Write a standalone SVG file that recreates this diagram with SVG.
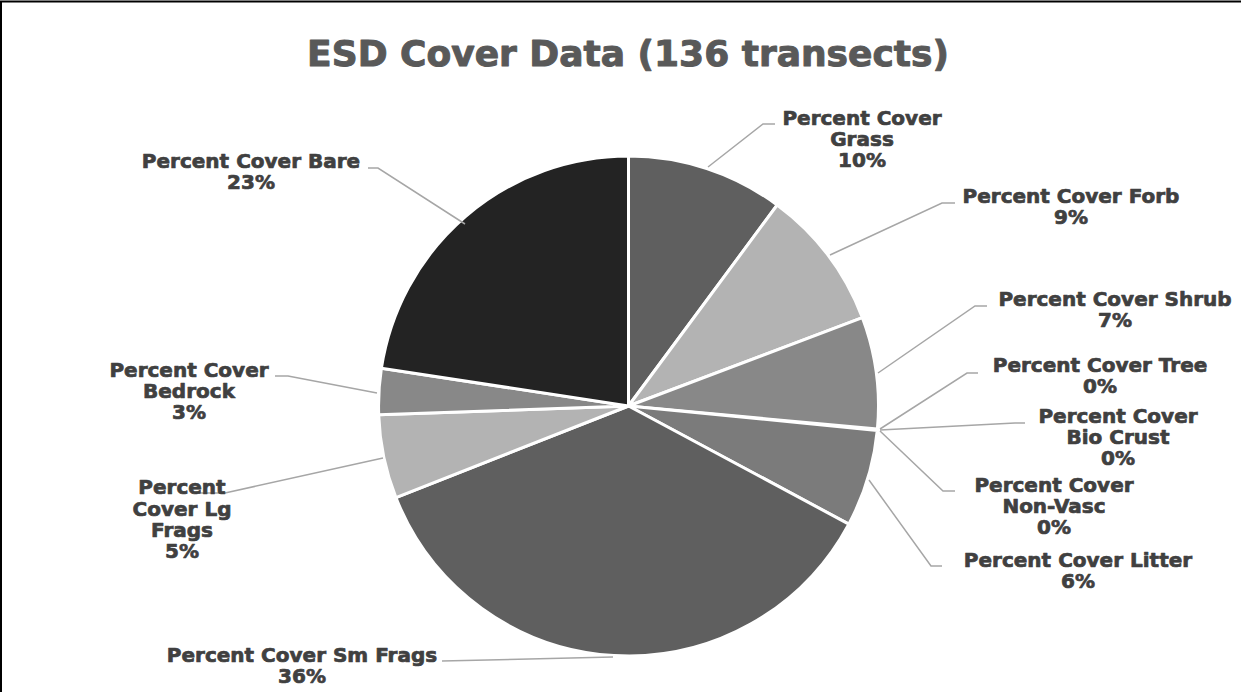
<svg xmlns="http://www.w3.org/2000/svg" width="1247" height="692" viewBox="0 0 1247 692">
<style>
.title{font-family:"DejaVu Sans","Liberation Sans",sans-serif;font-weight:bold;font-size:36px;fill:#595959;stroke:#595959;stroke-width:1;stroke-linejoin:round;text-anchor:middle}
.lbl{font-family:"DejaVu Sans","Liberation Sans",sans-serif;font-weight:bold;font-size:20px;fill:#404040;stroke:#404040;stroke-width:0.7;stroke-linejoin:round;text-anchor:middle}
.slice{stroke:#ffffff;stroke-width:3;stroke-linejoin:round}
.lead{fill:none;stroke:#a6a6a6;stroke-width:1.5}
</style>
<rect x="0" y="0" width="1247" height="692" fill="#ffffff"/>
<path d="M1,692 L1,1.5 L1241,1.5" fill="none" stroke="#000000" stroke-width="2"/>
<text class="title" x="628" y="66">ESD Cover Data (136 transects)</text>
<g id="pie">
<path id="s-grass" class="slice" fill="#5f5f5f" d="M628.5,406 L628.5,156 A250,250 0 0 1 777.2,205.0 Z"/>
<path id="s-forb" class="slice" fill="#b3b3b3" d="M628.5,406 L777.2,205.0 A250,250 0 0 1 862.4,317.6 Z"/>
<path id="s-shrub" class="slice" fill="#888888" d="M628.5,406 L862.4,317.6 A250,250 0 0 1 877.4,429.1 Z"/>
<path id="s-litter" class="slice" fill="#7b7b7b" d="M628.5,406 L877.3,430.4 A250,250 0 0 1 848.8,524.1 Z"/>
<path id="s-smfrags" class="slice" fill="#5f5f5f" d="M628.5,406 L848.8,524.1 A250,250 0 0 1 395.9,497.6 Z"/>
<path id="s-lgfrags" class="slice" fill="#b3b3b3" d="M628.5,406 L395.9,497.6 A250,250 0 0 1 378.7,414.7 Z"/>
<path id="s-bedrock" class="slice" fill="#888888" d="M628.5,406 L378.7,414.7 A250,250 0 0 1 381.4,368.2 Z"/>
<path id="s-bare" class="slice" fill="#232323" d="M628.5,406 L381.4,368.2 A250,250 0 0 1 628.5,156 Z"/>
</g>
<g id="connectors">
<polyline class="lead" points="708,167 763,124 775,124"/>
<polyline class="lead" points="830,255 942,203 955,203"/>
<polyline class="lead" points="878,373 975,306 987,306"/>
<polyline class="lead" points="880,429 967,373 978,373"/>
<polyline class="lead" points="880,430 1015,423 1025,423"/>
<polyline class="lead" points="880,431 943,491 955,491"/>
<polyline class="lead" points="869,480 931,566 942,566"/>
<polyline class="lead" points="465,224 378,168 368,168"/>
<polyline class="lead" points="377,393 288,376 275,376"/>
<polyline class="lead" points="383,458 225,493 200,493"/>
<polyline class="lead" points="613,657 442,661"/>
</g>
<g id="label-grass"><text class="lbl" x="862" y="125">Percent Cover</text><text class="lbl" x="862" y="146">Grass</text><text class="lbl" x="862" y="167">10%</text></g>
<g id="label-forb"><text class="lbl" x="1071" y="203">Percent Cover Forb</text><text class="lbl" x="1071" y="224">9%</text></g>
<g id="label-shrub"><text class="lbl" x="1115" y="306">Percent Cover Shrub</text><text class="lbl" x="1115" y="327">7%</text></g>
<g id="label-tree"><text class="lbl" x="1100" y="372">Percent Cover Tree</text><text class="lbl" x="1100" y="393">0%</text></g>
<g id="label-biocrust"><text class="lbl" x="1118" y="423">Percent Cover</text><text class="lbl" x="1118" y="444">Bio Crust</text><text class="lbl" x="1118" y="465">0%</text></g>
<g id="label-nonvasc"><text class="lbl" x="1054" y="492">Percent Cover</text><text class="lbl" x="1054" y="513">Non-Vasc</text><text class="lbl" x="1054" y="534">0%</text></g>
<g id="label-litter"><text class="lbl" x="1078" y="567">Percent Cover Litter</text><text class="lbl" x="1078" y="588">6%</text></g>
<g id="label-smfrags"><text class="lbl" x="302" y="662">Percent Cover Sm Frags</text><text class="lbl" x="302" y="683">36%</text></g>
<g id="label-lgfrags"><text class="lbl" x="182" y="494">Percent</text><text class="lbl" x="182" y="516">Cover Lg</text><text class="lbl" x="182" y="537">Frags</text><text class="lbl" x="182" y="558">5%</text></g>
<g id="label-bedrock"><text class="lbl" x="189" y="377">Percent Cover</text><text class="lbl" x="189" y="398">Bedrock</text><text class="lbl" x="189" y="419">3%</text></g>
<g id="label-bare"><text class="lbl" x="251" y="168">Percent Cover Bare</text><text class="lbl" x="251" y="189">23%</text></g>
</svg>
